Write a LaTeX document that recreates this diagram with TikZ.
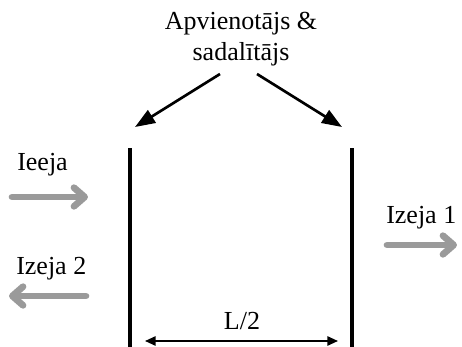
\documentclass[tikz,border=0pt]{standalone}
\usepackage{fontspec}
\setmainfont{Liberation Serif}
\usetikzlibrary{arrows.meta}
\definecolor{arrgray}{HTML}{9A9A9A}
\tikzset{
  lbl/.style={inner sep=0pt, font=\fontsize{19.5}{23.4}\selectfont},
  wall/.style={line width=3pt},
  pointer/.style={line width=2pt, -{Triangle[length=15pt,width=11pt]}},
  flow/.style={line width=5pt, color=arrgray, line cap=round, -{Straight Barb[length=8pt,width=14pt,round]}},
  dim/.style={line width=1.3pt, {Triangle[length=8pt,width=7pt]}-{Triangle[length=8pt,width=7pt]}}
}
\begin{document}
\begin{tikzpicture}[x=0.75pt, y=-0.75pt]
\useasboundingbox (0,0) rectangle (462,347);
% walls
\coordinate (lt) at (130,148);
\coordinate (lb) at (130,347);
\coordinate (rt) at (352,148);
\coordinate (rb) at (352,347);
\draw[wall] (lt) -- (lb);
\draw[wall] (rt) -- (rb);
% label and pointers
\node[lbl, align=center, anchor=north] (sp) at (241,12) {Apvienotājs \&\\sadalītājs};
\coordinate (sl0) at (220,74);
\coordinate (sr0) at (257,74);
\coordinate (sl) at (135,127);
\coordinate (sr) at (342,127);
\draw[pointer] (sl0) -- (sl);
\draw[pointer] (sr0) -- (sr);
% flows
\node[lbl, anchor=base west] (in) at (17,170) {Ieeja};
\coordinate (in0) at (12,197);
\coordinate (in1) at (88,197);
\draw[flow] (in0) -- (in1);
\node[lbl, anchor=base west] (o2) at (16,274) {Izeja 2};
\coordinate (o20) at (86,296);
\coordinate (o21) at (9,296);
\draw[flow] (o20) -- (o21);
\node[lbl, anchor=base west] (o1) at (386,223) {Izeja 1};
\coordinate (o10) at (387,245);
\coordinate (o11) at (457,245);
\draw[flow] (o10) -- (o11);
% dimension
\node[lbl, anchor=base] (half) at (242,329) {L/2};
\coordinate (d0) at (145,341);
\coordinate (d1) at (338,341);
\draw[dim] (d0) -- (d1);
\end{tikzpicture}
\end{document}
